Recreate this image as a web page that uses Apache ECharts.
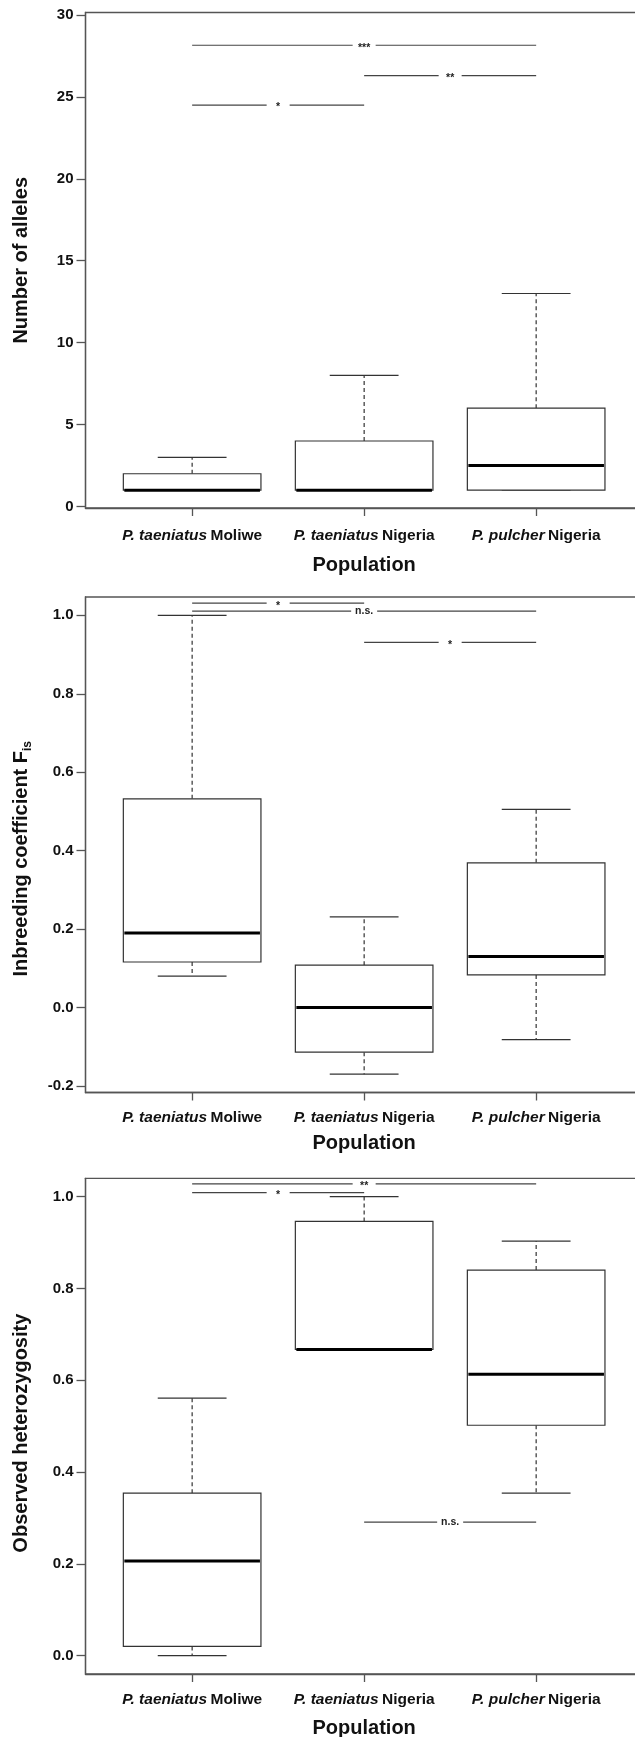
<!DOCTYPE html>
<html><head><meta charset="utf-8">
<script src="https://cdn.jsdelivr.net/npm/echarts@6/dist/echarts.min.js"></script>
<style>html,body{margin:0;padding:0;background:#fff}#c{width:635px;height:1737px}</style>
</head><body><div id="c"></div>
<script>
// ---------------- data ----------------
const speciesLabels = ['P. taeniatus', 'P. taeniatus', 'P. pulcher'];
const placeLabels = ['Moliwe', 'Nigeria', 'Nigeria'];
const categoryPositions = [1, 2, 3];

// [min, q1, median, q3, max] per population
const alleleBoxes = [[1, 1, 1, 2, 3], [1, 1, 1, 4, 8], [1, 1, 2.5, 6, 13]];
const fisBoxes = [[0.080, 0.116, 0.190, 0.532, 1.0], [-0.170, -0.114, 0.0, 0.108, 0.231], [-0.082, 0.083, 0.130, 0.369, 0.505]];
const hoBoxes = [[0.0, 0.020, 0.206, 0.354, 0.561], [0.667, 0.667, 0.667, 0.946, 1.0], [0.354, 0.502, 0.613, 0.840, 0.903]];

const alleleTicks = [0, 5, 10, 15, 20, 25, 30];
const fisTicks = [-0.2, 0, 0.2, 0.4, 0.6, 0.8, 1.0];
const hoTicks = [0, 0.2, 0.4, 0.6, 0.8, 1.0];

// significance bars: [from category, to category, y]
const alleleSig = [[1, 3, 28.15], [2, 3, 26.3], [1, 2, 24.5]];
const alleleSigLabels = ['***', '**', '*'];
const fisSig = [[1, 2, 1.031], [1, 3, 1.011], [2, 3, 0.931]];
const fisSigLabels = ['*', 'n.s.', '*'];
const hoSig = [[1, 3, 1.028], [1, 2, 1.009], [2, 3, 0.291]];
const hoSigLabels = ['**', '*', 'n.s.'];

const xName = 'Population';
const yNames = ['Number of alleles', '{m|Inbreeding coefficient F}{s|is}', 'Observed heterozygosity'];

// ---------------- layout / style ----------------
const FONT = '"Liberation Sans", Arial, Helvetica, sans-serif';
const BOX_W = 0.8;
const panels = [
  { top: 12.5, height: 495.5, min: -0.09, max: 30.15, ticks: alleleTicks, dec: 0, boxes: alleleBoxes, sig: alleleSig, sigLabels: alleleSigLabels, xMargin: 20, xGap: 47, yGap: 54, namePad: [0, 0, 0, 0] },
  { top: 597, height: 495.5, min: -0.2168, max: 1.0468, ticks: fisTicks, dec: 1, boxes: fisBoxes, sig: fisSig, sigLabels: fisSigLabels, xMargin: 17, xGap: 41, yGap: 52, namePad: [0, 28, 0, 0] },
  { top: 1178.3, height: 495.7, min: -0.04, max: 1.04, ticks: hoTicks, dec: 1, boxes: hoBoxes, sig: hoSig, sigLabels: hoSigLabels, xMargin: 17.5, xGap: 44, yGap: 54, namePad: [0, 14, 0, 0] }
];

function boxRender(params, api) {
  const x = api.value(0);
  const lo = api.value(1), q1 = api.value(2), med = api.value(3), q3 = api.value(4), hi = api.value(5);
  const bw = api.size([BOX_W, 0])[0];
  const hw = bw / 2, cw = bw / 4;
  const c = v => api.coord([x, v]);
  const pLo = c(lo), pQ1 = c(q1), pMed = c(med), pQ3 = c(q3), pHi = c(hi);
  const cx = pMed[0];
  const ls = { stroke: '#333', lineWidth: 1.2 };
  const ch = [];
  if (hi > q3) ch.push({ type: 'line', shape: { x1: cx, y1: pQ3[1], x2: cx, y2: pHi[1] }, style: Object.assign({}, ls, { lineDash: [4, 3] }) });
  if (lo < q1) ch.push({ type: 'line', shape: { x1: cx, y1: pQ1[1], x2: cx, y2: pLo[1] }, style: Object.assign({}, ls, { lineDash: [4, 3] }) });
  ch.push({ type: 'line', shape: { x1: cx - cw, y1: pHi[1], x2: cx + cw, y2: pHi[1] }, style: ls });
  ch.push({ type: 'line', shape: { x1: cx - cw, y1: pLo[1], x2: cx + cw, y2: pLo[1] }, style: ls });
  ch.push({ type: 'rect', shape: { x: cx - hw, y: pQ3[1], width: bw, height: pQ1[1] - pQ3[1] }, style: { fill: '#fff', stroke: '#333', lineWidth: 1.2 } });
  ch.push({ type: 'line', shape: { x1: cx - hw + 1, y1: pMed[1], x2: cx + hw - 1, y2: pMed[1] }, style: { stroke: '#000', lineWidth: 3 } });
  return { type: 'group', children: ch };
}

function sigRender(labels) {
  return function (params, api) {
    const y = api.value(2);
    const a = api.coord([api.value(0), y]), b = api.coord([api.value(1), y]);
    const lab = labels[params.dataIndex];
    const mid = (a[0] + b[0]) / 2;
    const gap = lab === 'n.s.' ? 13 : 11.5;
    const dy = lab === 'n.s.' ? 0 : 2.5;
    const ls = { stroke: '#444', lineWidth: 1.2 };
    return {
      type: 'group', children: [
        { type: 'line', shape: { x1: a[0], y1: a[1], x2: mid - gap, y2: a[1] }, style: ls },
        { type: 'line', shape: { x1: mid + gap, y1: a[1], x2: b[0], y2: a[1] }, style: ls },
        { type: 'text', style: { text: lab, x: mid, y: a[1] + dy, align: 'center', verticalAlign: 'middle', fontSize: 10.5, fontWeight: 'bold', fontFamily: FONT, fill: '#222' } }
      ]
    };
  };
}

const axisLineStyle = { color: '#555', width: 1.3 };
const option = {
  backgroundColor: '#fff',
  animation: false,
  grid: panels.map(p => ({ left: 85.5, top: p.top, width: 557.3, height: p.height, show: true, borderColor: '#555', borderWidth: 1.3, containLabel: false, outerBoundsMode: 'none' })),
  xAxis: panels.map((p, i) => ({
    gridIndex: i, type: 'value', min: 0.38, max: 3.62,
    axisLine: { show: true, onZero: false, lineStyle: axisLineStyle },
    axisTick: { show: true, length: 8, customValues: categoryPositions, lineStyle: axisLineStyle },
    axisLabel: {
      customValues: categoryPositions, margin: p.xMargin,
      formatter: v => { const k = Math.round(v) - 1; return '{i|' + speciesLabels[k] + '} {n|' + placeLabels[k] + '}'; },
      rich: {
        i: { fontStyle: 'italic', fontWeight: 'bold', fontSize: 15.5, fontFamily: FONT, color: '#111' },
        n: { fontWeight: 'bold', fontSize: 15.5, fontFamily: FONT, color: '#111' }
      }
    },
    splitLine: { show: false },
    name: xName, nameLocation: 'middle', nameGap: p.xGap,
    nameTextStyle: { fontSize: 20, fontWeight: 'bold', fontFamily: FONT, color: '#111' }
  })),
  yAxis: panels.map((p, i) => ({
    gridIndex: i, type: 'value', min: p.min, max: p.max,
    axisLine: { show: true, onZero: false, lineStyle: axisLineStyle },
    axisTick: { show: true, length: 9, customValues: p.ticks, lineStyle: axisLineStyle },
    axisLabel: {
      customValues: p.ticks, margin: 12,
      formatter: v => Number(v).toFixed(p.dec),
      fontSize: 15, fontWeight: 'bold', fontFamily: FONT, color: '#111'
    },
    splitLine: { show: false },
    name: yNames[i], nameLocation: 'middle', nameGap: p.yGap,
    nameTextStyle: {
      fontSize: 20, fontWeight: 'bold', fontFamily: FONT, color: '#111', padding: p.namePad,
      rich: {
        m: { fontSize: 20, fontWeight: 'bold', fontFamily: FONT, color: '#111', lineHeight: 24 },
        s: { fontSize: 12, fontWeight: 'bold', fontFamily: FONT, color: '#111', lineHeight: 10, verticalAlign: 'bottom' }
      }
    }
  })),
  series: [].concat(
    panels.map((p, i) => ({
      type: 'custom', xAxisIndex: i, yAxisIndex: i, renderItem: boxRender,
      encode: { x: 0, y: [1, 2, 3, 4, 5] },
      data: p.boxes.map((b, k) => [categoryPositions[k]].concat(b)), z: 2
    })),
    panels.map((p, i) => ({
      type: 'custom', xAxisIndex: i, yAxisIndex: i, renderItem: sigRender(p.sigLabels),
      encode: { x: [0, 1], y: 2 },
      data: p.sig, z: 3
    }))
  )
};
const chart = echarts.init(document.getElementById('c'), null, { renderer: 'canvas' });
chart.setOption(option);
</script>
</body></html>
